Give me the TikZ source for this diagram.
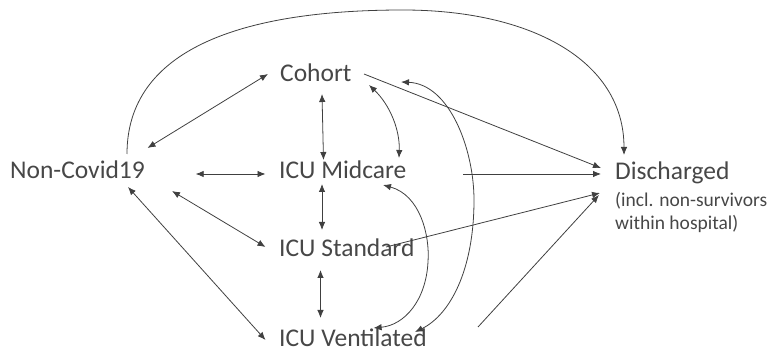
\documentclass[tikz,border=0pt]{standalone}
\usepackage{fontspec}
\setmainfont{Carlito}
\usetikzlibrary{arrows.meta}
\definecolor{ink}{HTML}{404040}
\definecolor{txt}{HTML}{474747}
\begin{document}
\begin{tikzpicture}[x=1pt,y=-1pt,
  lbl/.style={anchor=base west,inner sep=0pt,text=txt,font=\fontsize{25.5}{28}\selectfont},
  note/.style={anchor=base west,inner sep=0pt,text=txt,font=\fontsize{19.5}{22}\selectfont},
  con/.style={draw=ink,line width=0.8pt,-{Latex[length=8pt,width=6.5pt]}},
  bicon/.style={draw=ink,line width=0.8pt,{Latex[length=8pt,width=6.5pt]}-{Latex[length=8pt,width=6.5pt]}}]
\useasboundingbox (0,0) rectangle (769,352);
\node[lbl] (nc) at (10,179) {Non-Covid19};
\node[lbl] (coh) at (280,82) {Cohort};
\node[lbl] (mid) at (279,179) {ICU Midcare};
\node[lbl] (std) at (279,257) {ICU Standard};
\node[lbl] (ven) at (279,347) {ICU Ventilated};
\node[lbl] (dis) at (615,180) {Discharged};
\node[note] (n1) at (615,206.5) {(incl. non-survivors};
\node[note] (n2) at (615,230) {within hospital)};
% top arc
\draw[con] ([shift={(117,-25)}]nc.base west) .. controls (127,50) and (240,10) .. (403,10)
  .. controls (530,10) and (624,60) .. ([shift={(9,-25)}]dis.base west);
% straight bidirectional
\draw[bicon] ([shift={(137.5,-31)}]nc.base west) -- ([shift={(-12,-8)}]coh.base west);
\draw[bicon] ([shift={(185.7,-5)}]nc.base west) -- ([shift={(-13.5,-5)}]mid.base west);
\draw[bicon] ([shift={(162,12)}]nc.base west) -- ([shift={(-13.5,-10)}]std.base west);
\draw[bicon] ([shift={(118,8)}]nc.base west) -- ([shift={(-13.5,-7)}]ven.base west);
\draw[bicon] ([shift={(42,12)}]coh.base west) -- ([shift={(44.5,-19)}]mid.base west);
\draw[bicon] ([shift={(43,5)}]mid.base west) -- ([shift={(43,-27)}]std.base west);
\draw[bicon] ([shift={(41.5,13)}]std.base west) -- ([shift={(41.5,-29)}]ven.base west);
% curved bidirectional
\draw[bicon] ([shift={(89,3)}]coh.base west) .. controls (390,105) and (400,130) .. ([shift={(120,-21)}]mid.base west);
\draw[bicon] ([shift={(121,0)}]coh.base west) .. controls (450,84) and (474,150) .. (474,200)
  .. controls (474,270) and (450,315) .. ([shift={(136,-15)}]ven.base west);
\draw[bicon] ([shift={(104,6)}]mid.base west) .. controls (420,195) and (430,235) .. (428,262)
  .. controls (426,300) and (405,325) .. ([shift={(94.6,-19)}]ven.base west);
% to discharged
\draw[con] ([shift={(84,-8)}]coh.base west) -- ([shift={(-14,-12)}]dis.base west);
\draw[con] ([shift={(184,-5)}]mid.base west) -- ([shift={(-14,-6)}]dis.base west);
\draw[con] ([shift={(107,-10)}]std.base west) -- ([shift={(-15,13)}]dis.base west);
\draw[con] ([shift={(199,-20)}]ven.base west) -- ([shift={(-16,15)}]dis.base west);
\end{tikzpicture}
\end{document}
